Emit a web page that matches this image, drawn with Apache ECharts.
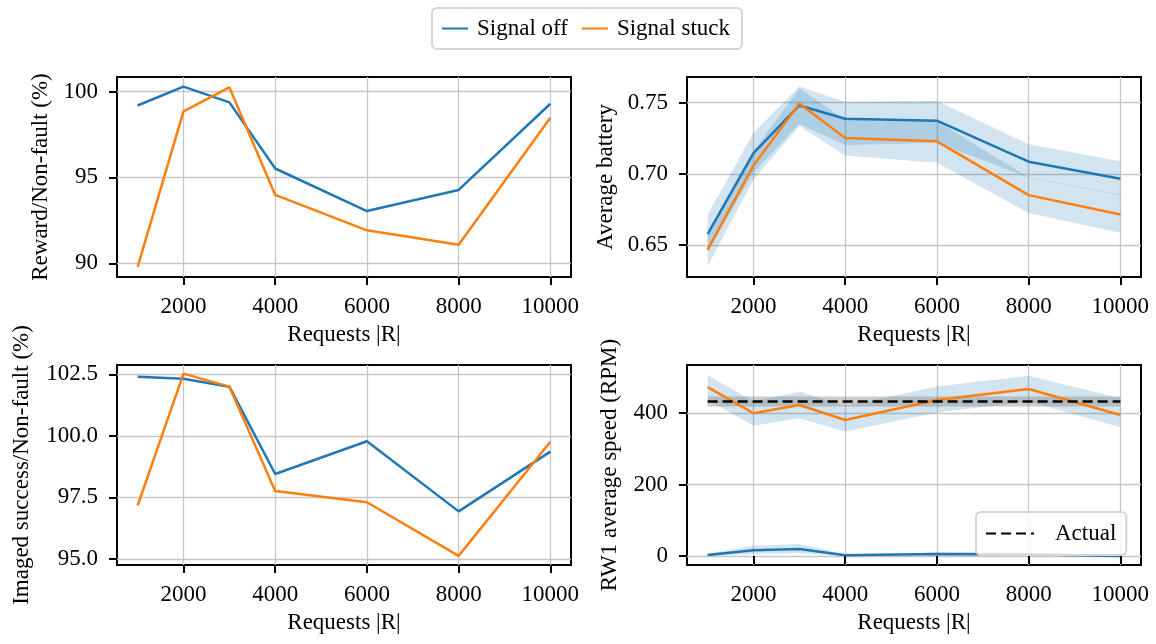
<!DOCTYPE html>
<html>
<head>
<meta charset="utf-8">
<script src="https://cdn.jsdelivr.net/npm/echarts@6/dist/echarts.min.js"></script>
<style>
  html, body { margin: 0; padding: 0; background: #fff; }
  #main { width: 1156px; height: 644px; }
</style>
</head>
<body>
<div id="main"></div>
<script>
// x values (number of requests) and tick labels
var requests = [1000, 2000, 3000, 4000, 6000, 8000, 10000];
var xTicks = [2000, 4000, 6000, 8000, 10000];

// Reward / Non-fault (%)
var rewardOff = [99.19, 100.29, 99.37, 95.52, 93.04, 94.27, 99.29];
var rewardStuck = [89.79, 98.85, 100.25, 93.98, 91.92, 91.08, 98.48];
var rewardTicks = [90, 95, 100];

// Average battery, with shaded bands
var batteryOff = [0.6577, 0.7145, 0.7480, 0.7387, 0.7373, 0.7085, 0.6965];
var batteryOffLow = [0.6450, 0.7010, 0.7350, 0.7200, 0.7220, 0.6972, 0.6850];
var batteryOffHigh = [0.6714, 0.7289, 0.7613, 0.7505, 0.7512, 0.7207, 0.7089];
var batteryStuck = [0.6467, 0.7059, 0.7493, 0.7251, 0.7228, 0.6850, 0.6714];
var batteryStuckLow = [0.6350, 0.6960, 0.7336, 0.7129, 0.7077, 0.6725, 0.6585];
var batteryStuckHigh = [0.6590, 0.7160, 0.7600, 0.7380, 0.7370, 0.6975, 0.6855];
var batteryTicks = [0.65, 0.70, 0.75];

// Imaged success / Non-fault (%)
var imagedOff = [102.40, 102.32, 102.00, 98.45, 99.78, 96.93, 99.36];
var imagedStuck = [97.17, 102.53, 102.00, 97.76, 97.30, 95.12, 99.76];
var imagedTicks = [95, 97.5, 100, 102.5];

// RW1 average speed (RPM), with shaded bands
var speedOff = [3, 16, 20, 2, 6, 5, 0];
var speedOffLow = [0, 6, 8, 0, 2, 1, -2];
var speedOffHigh = [7, 29, 34, 5, 10, 9, 2];
var speedStuck = [473, 400, 423, 381, 437, 468, 395];
var speedStuckLow = [437, 365, 386, 349, 402, 433, 361];
var speedStuckHigh = [507, 433, 461, 420, 475, 505, 442];
var speedActual = [432.5, 432.5, 432.5, 432.5, 432.5, 432.5, 432.5];
var speedActualLow = [418.5, 418.5, 418.5, 418.5, 418.5, 418.5, 418.5];
var speedActualHigh = [446.5, 446.5, 446.5, 446.5, 446.5, 446.5, 446.5];
var speedTicks = [0, 200, 400];

var BLUE = '#1f77b4';
var ORANGE = '#ff7f0e';
var FONT = 'Liberation Serif, Times New Roman, serif';

function pairs(xs, ys) {
  return xs.map(function (x, i) { return [x, ys[i]]; });
}

function xAxisFor(gi) {
  return {
    type: 'value', gridIndex: gi, min: 550, max: 10450,
    name: 'Requests |R|', nameLocation: 'middle', nameGap: 46, nameMoveOverlap: false,
    nameTextStyle: { fontFamily: FONT, fontSize: 23, color: '#000' },
    axisLine: { show: false },
    axisTick: { show: true, length: 8, customValues: xTicks, lineStyle: { color: '#000', width: 2 } },
    axisLabel: {
      customValues: xTicks, margin: 18, fontFamily: FONT, fontSize: 23, color: '#000',
      formatter: function (v) { return String(v); }
    },
    splitLine: { show: true, lineStyle: { color: '#c6c6c6', width: 1.3 } }
  };
}

function yAxisFor(gi, name, gap, min, max, ticks, digits) {
  return {
    type: 'value', gridIndex: gi, min: min, max: max,
    name: name, nameLocation: 'middle', nameGap: gap, nameMoveOverlap: false,
    nameTextStyle: { fontFamily: FONT, fontSize: 23, color: '#000' },
    axisLine: { show: false },
    axisTick: { show: true, length: 8, customValues: ticks, lineStyle: { color: '#000', width: 2 } },
    axisLabel: {
      customValues: ticks, margin: 19, fontFamily: FONT, fontSize: 23, color: '#000',
      formatter: function (v) { return digits == null ? String(v) : Number(v).toFixed(digits); }
    },
    splitLine: { show: true, lineStyle: { color: '#c6c6c6', width: 1.3 } }
  };
}

function line(name, gi, ys, color, extra) {
  var s = {
    name: name, type: 'line', xAxisIndex: gi, yAxisIndex: gi,
    data: pairs(requests, ys), symbol: 'none', silent: true, z: 5,
    lineStyle: { color: color, width: 2.5 }, itemStyle: { color: color }
  };
  if (extra) { for (var k in extra) s[k] = extra[k]; }
  return s;
}

// shaded band between low and high, drawn as one polygon through the axis scales
function band(gi, low, high, color) {
  return {
    type: 'custom', xAxisIndex: gi, yAxisIndex: gi, silent: true, z: 2,
    data: requests.map(function (x, i) { return [x, low[i], high[i]]; }),
    encode: { x: 0, y: [1, 2] },
    renderItem: function (params, api) {
      if (params.dataIndex !== 0) return null;
      var upper = [], lower = [];
      for (var i = 0; i < requests.length; i++) {
        upper.push(api.coord([requests[i], high[i]]));
        lower.unshift(api.coord([requests[i], low[i]]));
      }
      return { type: 'polygon', shape: { points: upper.concat(lower) }, style: { fill: color } };
    }
  };
}

var myChart = echarts.init(document.getElementById('main'), null, { renderer: 'canvas' });

function grid(left, top) {
  return {
    left: left, top: top, width: 454, height: 200,
    show: true, borderColor: '#000', borderWidth: 2, backgroundColor: 'transparent',
    containLabel: false, outerBoundsMode: 'none'
  };
}

var bandBlue = 'rgba(31,119,180,0.2)';
var bandGrey = 'rgba(128,128,128,0.4)';

var series = [
  line('Signal off', 0, rewardOff, BLUE),
  line('Signal stuck', 0, rewardStuck, ORANGE),
  band(1, batteryOffLow, batteryOffHigh, bandBlue),
  band(1, batteryStuckLow, batteryStuckHigh, bandBlue),
  line('Signal off', 1, batteryOff, BLUE),
  line('Signal stuck', 1, batteryStuck, ORANGE),
  line('Signal off', 2, imagedOff, BLUE),
  line('Signal stuck', 2, imagedStuck, ORANGE),
  band(3, speedOffLow, speedOffHigh, bandBlue),
  band(3, speedStuckLow, speedStuckHigh, bandBlue),
  band(3, speedActualLow, speedActualHigh, bandGrey),
  line('Signal off', 3, speedOff, BLUE),
  line('Signal stuck', 3, speedStuck, ORANGE),
  line('Actual', 3, speedActual, '#000', { z: 6, lineStyle: { color: '#000', width: 2.5, type: [10, 5] } })
];

option = {
  backgroundColor: '#fff',
  animation: false,
  textStyle: { fontFamily: FONT },
  legend: [
    {
      data: ['Signal off', 'Signal stuck'],
      left: 432, top: 8, orient: 'horizontal',
      padding: [9, 12, 9, 9], itemGap: 13, itemWidth: 26, itemHeight: 14,
      borderColor: '#d6d6d6', borderWidth: 2, borderRadius: 5, backgroundColor: '#fff',
      itemStyle: { opacity: 0 },
      textStyle: { fontFamily: FONT, fontSize: 23, color: '#000', padding: [0, 0, 0, 4] },
      selectedMode: false
    },
    {
      data: ['Actual'],
      left: 976, top: 512,
      padding: [10, 10, 10, 9], itemWidth: 48, itemHeight: 14,
      borderColor: '#d6d6d6', borderWidth: 2, borderRadius: 5, backgroundColor: 'rgba(255,255,255,0.8)',
      itemStyle: { opacity: 0 },
      textStyle: { fontFamily: FONT, fontSize: 23, color: '#000', padding: [0, 0, 0, 16] },
      selectedMode: false, z: 10
    }
  ],
  grid: [grid(117, 77), grid(687, 77), grid(117, 365), grid(687, 365)],
  xAxis: [xAxisFor(0), xAxisFor(1), xAxisFor(2), xAxisFor(3)],
  yAxis: [
    yAxisFor(0, 'Reward/Non-fault (%)', 65, 89.2, 100.85, rewardTicks, null),
    yAxisFor(1, 'Average battery', 70, 0.6275, 0.768, batteryTicks, 2),
    yAxisFor(2, 'Imaged success/Non-fault (%)', 84, 94.75, 102.88, imagedTicks, 1),
    yAxisFor(3, 'RW1 average speed (RPM)', 66, -25, 535, speedTicks, null)
  ],
  series: series
};

myChart.setOption(option);
</script>
</body>
</html>
